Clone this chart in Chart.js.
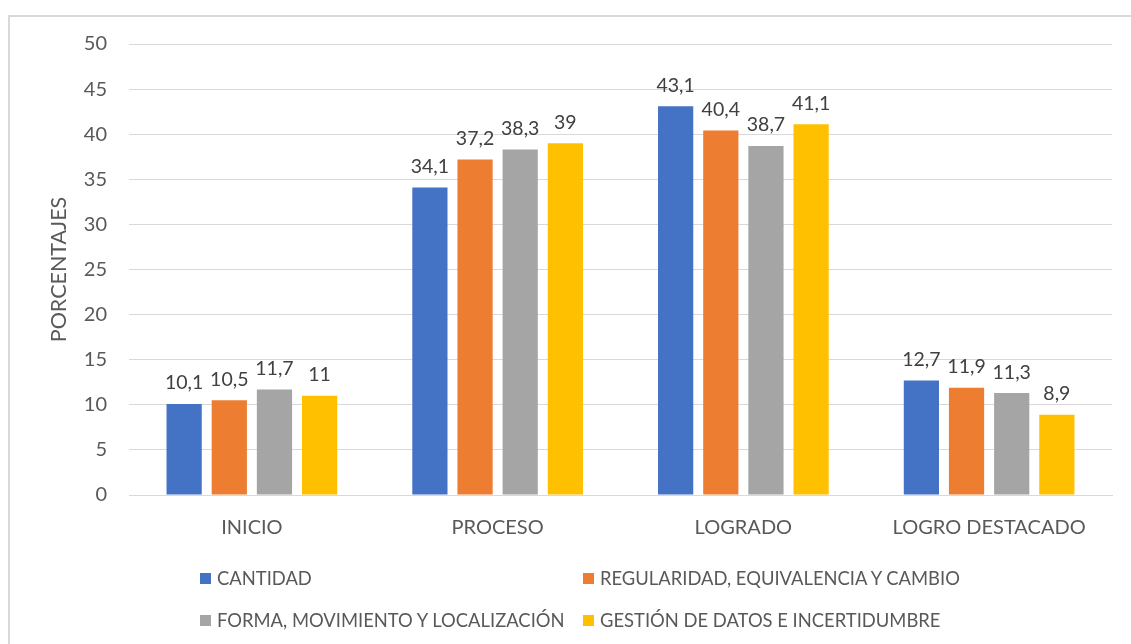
<!DOCTYPE html>
<html>
<head>
<meta charset="utf-8">
<script src="https://cdn.jsdelivr.net/npm/chart.js@4.4.1/dist/chart.umd.min.js"></script>
<style>
  html, body { margin: 0; padding: 0; background: #fff; }
  #wrap { position: relative; width: 1131px; height: 644px; overflow: hidden; }
  #marco { position: absolute; left: 8px; top: 15px; width: 1140px; height: 660px; border: 2px solid #d9d9d9; box-sizing: border-box; }
  #grafico { position: absolute; left: 0; top: 0; }
  #leyenda { position: absolute; left: 200px; top: 557px; font-family: Lato, "Open Sans", sans-serif; font-size: 18.4px; color: #595959; }
  .fila { display: flex; height: 42px; align-items: center; }
  .item { display: flex; align-items: center; }
  .item.col1 { width: 383px; }
  .caja { width: 11px; height: 11px; margin-right: 6px; }
</style>
</head>
<body>
<div id="wrap">
  <div id="marco"></div>
  <canvas id="grafico" width="1131" height="644"></canvas>
  <div id="leyenda"></div>
</div>
<script>
const categorias = ['INICIO', 'PROCESO', 'LOGRADO', 'LOGRO DESTACADO'];
const series = ['CANTIDAD', 'REGULARIDAD, EQUIVALENCIA Y CAMBIO', 'FORMA, MOVIMIENTO Y LOCALIZACIÓN', 'GESTIÓN DE DATOS E INCERTIDUMBRE'];
const cantidad = [10.1, 34.1, 43.1, 12.7];
const regularidad = [10.5, 37.2, 40.4, 11.9];
const forma = [11.7, 38.3, 38.7, 11.3];
const gestion = [11, 39, 41.1, 8.9];
const colores = ['#4472C4', '#ED7D31', '#A5A5A5', '#FFC000'];
const fuente = 'Lato, "Open Sans", sans-serif';

// etiquetas de valor encima de cada barra, con coma decimal
const etiquetasValor = {
    id: 'etiquetasValor',
    afterDatasetsDraw(chart) {
        const ctx = chart.ctx;
        ctx.save();
        ctx.font = '19.5px ' + fuente;
        ctx.fillStyle = '#404040';
        ctx.textAlign = 'center';
        ctx.textBaseline = 'bottom';
        chart.data.datasets.forEach((ds, i) => {
            chart.getDatasetMeta(i).data.forEach((barra, j) => {
                const texto = String(ds.data[j]).replace('.', ',');
                ctx.fillText(texto, barra.x, barra.y - 11);
            });
        });
        ctx.restore();
    }
};

const datos = [cantidad, regularidad, forma, gestion];

const ctx = document.getElementById('grafico').getContext('2d');
const grafico = new Chart(ctx, {
    type: 'bar',
    data: {
        labels: categorias,
        datasets: series.map((nombre, i) => ({
            label: nombre,
            data: datos[i],
            backgroundColor: colores[i],
            categoryPercentage: 0.735,
            barPercentage: 0.78
        }))
    },
    options: {
        responsive: false,
        animation: false,
        layout: { padding: { left: 20, top: 44, right: 19, bottom: 99 } },
        plugins: {
            legend: { display: false },
            tooltip: { enabled: false }
        },
        scales: {
            x: {
                grid: { display: false },
                border: { color: '#d9d9d9', width: 1 },
                ticks: { color: '#595959', font: { family: fuente, size: 20 }, padding: 13 },
                afterFit(scale) { scale.height = 50; }
            },
            y: {
                min: 0,
                max: 50,
                ticks: { stepSize: 5, color: '#595959', font: { family: fuente, size: 20 }, padding: 22 },
                grid: { color: '#d9d9d9', drawTicks: false },
                border: { display: false },
                title: {
                    display: true,
                    text: 'PORCENTAJES',
                    color: '#595959',
                    font: { family: fuente, size: 21.5 },
                    padding: { top: 26, bottom: 0 }
                },
                afterFit(scale) { scale.width = 109; }
            }
        }
    },
    plugins: [etiquetasValor]
});

// leyenda en dos columnas debajo del gráfico
const items = grafico.options.plugins.legend.labels.generateLabels(grafico);
const leyenda = document.getElementById('leyenda');
for (let f = 0; f < 2; f++) {
    const fila = document.createElement('div');
    fila.className = 'fila';
    for (let c = 0; c < 2; c++) {
        const it = items[f * 2 + c];
        const el = document.createElement('div');
        el.className = 'item col' + (c + 1);
        el.innerHTML = '<span class="caja" style="background:' + it.fillStyle + '"></span>' + it.text;
        fila.appendChild(el);
    }
    leyenda.appendChild(fila);
}
</script>
</body>
</html>
